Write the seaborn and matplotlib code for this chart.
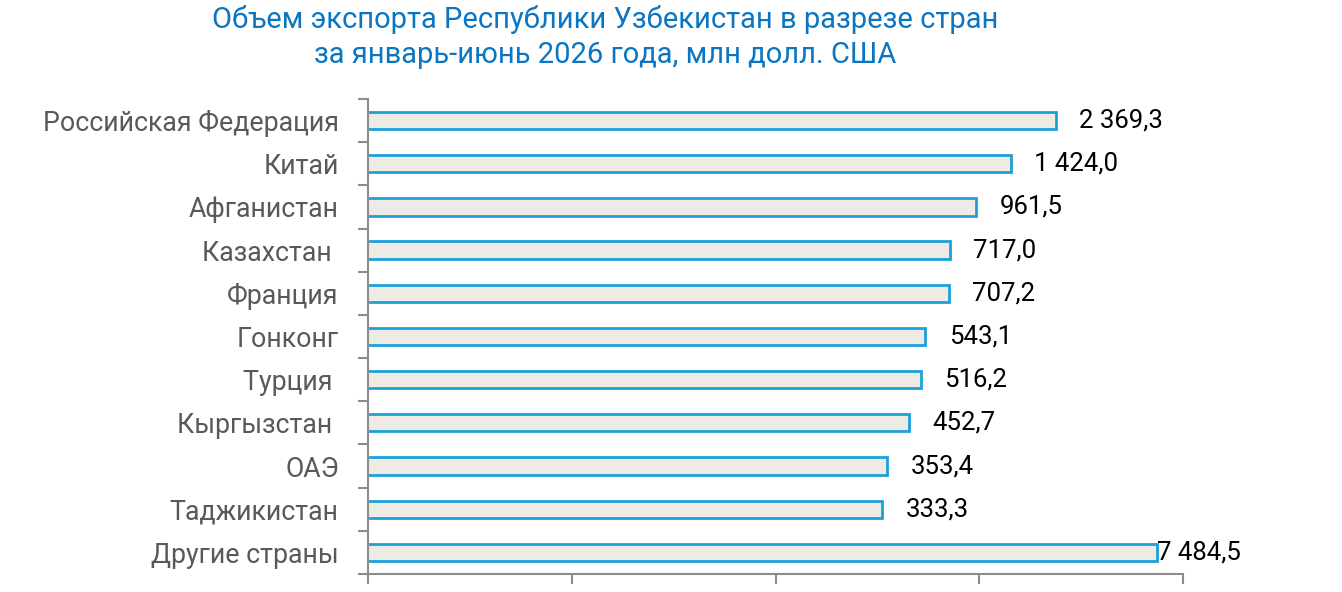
import matplotlib
matplotlib.use("Agg")
import matplotlib.pyplot as plt
from matplotlib import font_manager as fm
import seaborn as sns
import pandas as pd
import numpy as np

countries = ["Российская Федерация", "Китай", "Афганистан", "Казахстан ", "Франция",
             "Гонконг", "Турция ", "Кыргызстан ", "ОАЭ", "Таджикистан", "Другие страны"]
values = [2369.3, 1424.0, 961.5, 717.0, 707.2, 543.1, 516.2, 452.7, 353.4, 333.3, 7484.5]
value_labels = ["2 369,3", "1 424,0", "961,5", "717,0", "707,2", "543,1", "516,2",
                "452,7", "353,4", "333,3", "7 484,5"]
title = "Объем экспорта Республики Узбекистан в разрезе стран\nза январь-июнь 2026 года, млн долл. США"

names = {f.name for f in fm.fontManager.ttflist}
narrow = "Liberation Sans Narrow" if "Liberation Sans Narrow" in names else "Roboto"

sns.set_theme(style="white")
plt.rcParams['font.family'] = ['Roboto', 'DejaVu Sans']

df = pd.DataFrame({"country": countries, "value": values})

fig = plt.figure(figsize=(13.42, 5.92), dpi=100)
ax = fig.add_axes([368/1342, 1-574/592, (1183-368)/1342, (574-99)/592])
sns.barplot(data=df, y="country", x="value", ax=ax, orient="h", width=0.4,
            color="#EDEBE3", edgecolor="#1BA1DA", linewidth=2, saturation=1, log_scale=True)
ax.set_xscale("log")
ax.set_xlim(1, 10000)
ax.set_ylim(len(countries)-0.5, -0.5)
ax.set_xlabel("")
ax.set_ylabel("")
ax.set_xticks([1, 10, 100, 1000, 10000])
ax.set_xticks([], minor=True)
ax.set_xticklabels([])
ax.set_yticks(np.arange(len(countries)))
ax.set_yticklabels(countries, fontsize=19.3, color="#595959", fontfamily=["Roboto", "DejaVu Sans"])
ax.set_yticks(np.arange(-0.5, len(countries)), minor=True)
ax.tick_params(axis="y", which="major", length=0, pad=21)
ax.tick_params(axis="y", which="minor", length=7, width=1.5, color="#8C8C8C", left=True)
ax.tick_params(axis="x", which="major", length=7, width=1.5, color="#8C8C8C", bottom=True, direction="out")
for s in ["top", "right"]:
    ax.spines[s].set_visible(False)
for s in ["left", "bottom"]:
    ax.spines[s].set_color("#8C8C8C")
    ax.spines[s].set_linewidth(1.5)

for i, (v, lab) in enumerate(zip(values, value_labels)):
    off = 17 if i < len(values) - 1 else 0
    ax.annotate(lab, xy=(v, i), xytext=(off, 0), textcoords="offset points",
                ha="left", va="center", fontsize=18.5, color="black",
                fontfamily=[narrow, "DejaVu Sans"], annotation_clip=False)

fig.text(605/1342, 1-37/592, title, ha="center", va="center", fontsize=21,
         color="#0A75C2", linespacing=1.3, fontfamily=[narrow, "DejaVu Sans"])
fig.savefig("out.png", dpi=100)
